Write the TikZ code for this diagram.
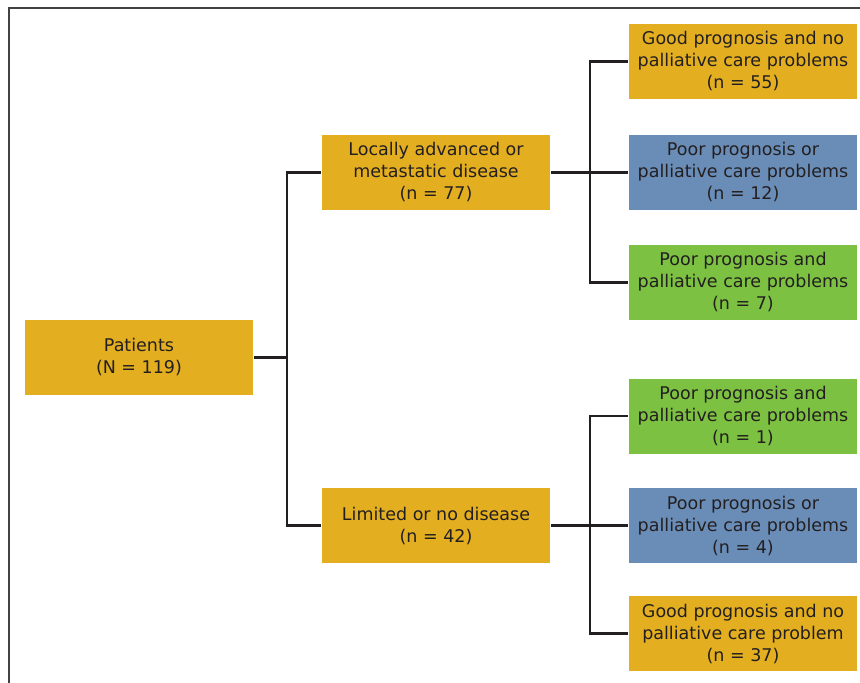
\documentclass[tikz,border=0pt]{standalone}
\usepackage{fontspec}
\setmainfont{DejaVu Sans}
\definecolor{boxgold}{HTML}{E3AF21}
\definecolor{boxblue}{HTML}{6A8DB8}
\definecolor{boxgreen}{HTML}{7CC142}
\definecolor{inkdark}{HTML}{231F20}
\begin{document}
\begin{tikzpicture}[x=1pt,y=-1pt, line width=2.5pt,
    every node/.style={text=inkdark, font=\fontsize{17.5}{22}\selectfont},
    cbox/.style={minimum width=228pt, minimum height=75pt, inner sep=0pt, align=center},
    gold/.style={cbox, fill=boxgold},
    blue/.style={cbox, fill=boxblue},
    green/.style={cbox, fill=boxgreen}]{
    \useasboundingbox (0,0) rectangle (860,683);
    \draw [line width=1.5pt, draw=inkdark!85] (9,683) -- (9,8) -- (860,8);

    \node [gold] (pat) at (139,357.5) {Patients\\(N = 119)};
    \node [gold] (loc) at (436,172.5) {Locally advanced or\\metastatic disease\\(n = 77)};
    \node [gold] (lim) at (436,525.5) {Limited or no disease\\(n = 42)};

    \node [gold] (ga) at (743,61.5) {Good prognosis and no\\palliative care problems\\(n = 55)};
    \node [blue] (pa) at (743,172.5) {Poor prognosis or\\palliative care problems\\(n = 12)};
    \node [green] (ba) at (743,282.5) {Poor prognosis and\\palliative care problems\\(n = 7)};

    \node [green] (bb) at (743,416) {Poor prognosis and\\palliative care problems\\(n = 1)};
    \node [blue] (pb) at (743,525.5) {Poor prognosis or\\palliative care problems\\(n = 4)};
    \node [gold] (gb) at (743,633.5) {Good prognosis and no\\palliative care problem\\(n = 37)};

    \coordinate (j0) at (287,357.5);
    \coordinate (ja) at (590,172.5);
    \coordinate (jb) at (590,525.5);

    \draw [inkdark] (pat) -- (j0);
    \draw [inkdark] (ja) |- (ga);
    \draw [inkdark] (ja) |- (ba);
    \draw [inkdark] (j0) |- (loc);
    \draw [inkdark] (j0) |- (lim);
    \draw [inkdark] (loc) -- (pa);
    \draw [inkdark] (lim) -- (pb);
    \draw [inkdark] (jb) |- (bb);
    \draw [inkdark] (jb) |- (gb);
    }
\end{tikzpicture}
\end{document}
